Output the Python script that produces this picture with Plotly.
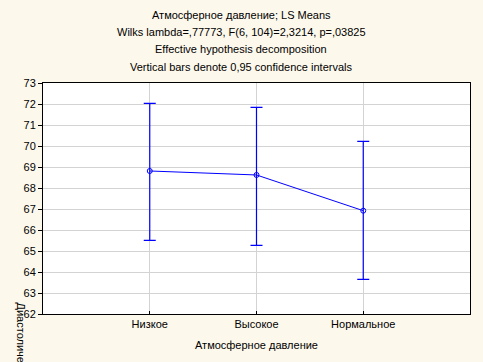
import plotly.graph_objects as go

categories = ["Низкое", "Высокое", "Нормальное"]
means = [68.81, 68.62, 66.92]
upper = [72.03, 71.84, 70.22]
lower = [65.51, 65.27, 63.65]
title_lines = [
    "Атмосферное давление; LS Means",
    "Wilks lambda=,77773, F(6, 104)=2,3214, p=,03825",
    "Effective hypothesis decomposition",
    "Vertical bars denote 0,95 confidence intervals",
]
x_title = "Атмосферное давление"
y_title = "Диастолическое"

err_plus = [u - m for u, m in zip(upper, means)]
err_minus = [m - l for m, l in zip(means, lower)]

FONT = "Liberation Sans, Arial, sans-serif"
BLUE = "#0000FF"

fig = go.Figure()
fig.add_trace(go.Scatter(
    x=categories, y=means, mode="lines+markers",
    line=dict(color=BLUE, width=1),
    marker=dict(symbol="circle-open", size=5, color=BLUE, line=dict(width=1, color=BLUE)),
    error_y=dict(type="data", symmetric=False, array=err_plus, arrayminus=err_minus,
                 color=BLUE, thickness=1.2, width=6),
    showlegend=False,
))

L, R, T, B = 43, 13, 83, 48
W, H = 483, 362
ph = H - T - B
annotations = []
for i, (txt, py) in enumerate(zip(title_lines, [15, 32, 49, 67])):
    annotations.append(dict(
        text=txt, xref="paper", yref="paper",
        x=(241 - L) / (W - L - R), y=(H - B - py) / ph,
        xanchor="center", yanchor="middle", showarrow=False,
        font=dict(family=FONT, size=11, color="#000000"),
    ))
annotations.append(dict(
    text=x_title, xref="paper", yref="paper",
    x=0.5, y=(H - B - 345) / ph, xanchor="center", yanchor="middle",
    showarrow=False, font=dict(family=FONT, size=11, color="#000000"),
))
annotations.append(dict(
    text=y_title, xref="paper", yref="paper",
    x=(21 - L) / (W - L - R), y=(H - B - 300) / ph,
    xanchor="center", yanchor="top", textangle=90,
    showarrow=False, font=dict(family=FONT, size=11, color="#000000"),
))

fig.update_layout(
    width=W, height=H,
    margin=dict(l=L, r=R, t=T, b=B, pad=0),
    paper_bgcolor="#FDF8EC",
    plot_bgcolor="#FFFFFF",
    font=dict(family=FONT, size=11, color="#000000"),
    annotations=annotations,
    xaxis=dict(
        type="category", range=[-1, 3],
        showgrid=True, gridcolor="#D3D3D3", gridwidth=1,
        ticks="inside", ticklen=3, tickcolor="#000000",
        showline=True, linecolor="#000000", linewidth=1, mirror=True,
        zeroline=False, tickfont=dict(family=FONT, size=11, color="#000000"),
    ),
    yaxis=dict(
        range=[62, 73], dtick=1, tick0=62,
        showgrid=True, gridcolor="#D3D3D3", gridwidth=1,
        ticks="outside", ticklen=4, tickcolor="#000000",
        showline=True, linecolor="#000000", linewidth=1, mirror=True,
        zeroline=False, tickfont=dict(family=FONT, size=11, color="#000000"),
    ),
)

fig.write_html(
    "out.html",
    config={"displayModeBar": False},
    post_script="document.body.style.margin='0px';document.body.style.overflow='hidden';document.body.style.background='#FDF8EC';",
)
